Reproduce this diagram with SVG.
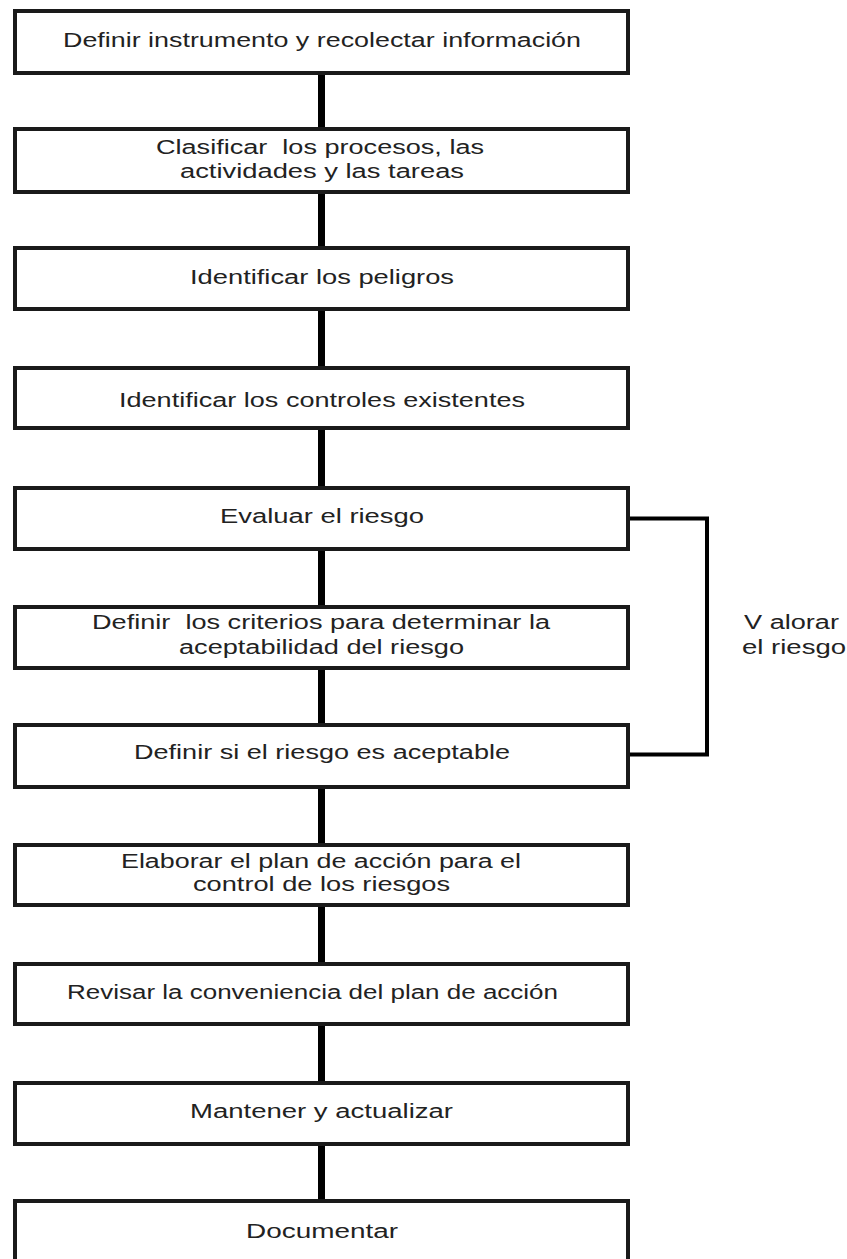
<svg xmlns="http://www.w3.org/2000/svg" width="847" height="1259" viewBox="0 0 847 1259">
<style>
.box{fill:#fff;stroke:#1a1a1a;stroke-width:4}
.conn{stroke:#000;stroke-width:7;fill:none}
.br{stroke:#000;stroke-width:4;fill:none}
text{font-family:"Liberation Sans",Arial,sans-serif;font-size:20px;fill:#222}
</style>
<rect width="847" height="1259" fill="#fff"/>
<g id="connectors">
<line class="conn" x1="321.5" y1="73" x2="321.5" y2="129"/>
<line class="conn" x1="321.5" y1="192" x2="321.5" y2="248"/>
<line class="conn" x1="321.5" y1="309" x2="321.5" y2="368"/>
<line class="conn" x1="321.5" y1="428" x2="321.5" y2="488"/>
<line class="conn" x1="321.5" y1="549" x2="321.5" y2="607"/>
<line class="conn" x1="321.5" y1="668" x2="321.5" y2="725"/>
<line class="conn" x1="321.5" y1="787" x2="321.5" y2="845"/>
<line class="conn" x1="321.5" y1="905" x2="321.5" y2="964"/>
<line class="conn" x1="321.5" y1="1024" x2="321.5" y2="1083"/>
<line class="conn" x1="321.5" y1="1144" x2="321.5" y2="1201"/>
<polyline class="br" points="628,518.5 707,518.5 707,754.5 628,754.5"/>
</g>
<g id="n1"><rect class="box" x="15" y="11" width="613" height="62"/>
<text x="63" y="47" textLength="518" lengthAdjust="spacingAndGlyphs">Definir instrumento y recolectar información</text></g>
<g id="n2"><rect class="box" x="15" y="129" width="613" height="63"/>
<text x="156" y="154" textLength="328" lengthAdjust="spacingAndGlyphs" xml:space="preserve">Clasificar  los procesos, las</text>
<text x="180" y="178" textLength="284" lengthAdjust="spacingAndGlyphs">actividades y las tareas</text></g>
<g id="n3"><rect class="box" x="15" y="248" width="613" height="61"/>
<text x="190" y="284" textLength="264" lengthAdjust="spacingAndGlyphs">Identificar los peligros</text></g>
<g id="n4"><rect class="box" x="15" y="368" width="613" height="60"/>
<text x="119" y="407" textLength="406" lengthAdjust="spacingAndGlyphs">Identificar los controles existentes</text></g>
<g id="n5"><rect class="box" x="15" y="488" width="613" height="61"/>
<text x="220" y="523" textLength="204" lengthAdjust="spacingAndGlyphs">Evaluar el riesgo</text></g>
<g id="n6"><rect class="box" x="15" y="607" width="613" height="61"/>
<text x="92" y="629" textLength="458" lengthAdjust="spacingAndGlyphs" xml:space="preserve">Definir  los criterios para determinar la</text>
<text x="179" y="654" textLength="285" lengthAdjust="spacingAndGlyphs">aceptabilidad del riesgo</text></g>
<g id="n7"><rect class="box" x="15" y="725" width="613" height="62"/>
<text x="134" y="759" textLength="376" lengthAdjust="spacingAndGlyphs">Definir si el riesgo es aceptable</text></g>
<g id="n8"><rect class="box" x="15" y="845" width="613" height="60"/>
<text x="121" y="868" textLength="400" lengthAdjust="spacingAndGlyphs">Elaborar el plan de acción para el</text>
<text x="193" y="891" textLength="257" lengthAdjust="spacingAndGlyphs">control de los riesgos</text></g>
<g id="n9"><rect class="box" x="15" y="964" width="613" height="60"/>
<text x="67" y="999" textLength="491" lengthAdjust="spacingAndGlyphs">Revisar la conveniencia del plan de acción</text></g>
<g id="n10"><rect class="box" x="15" y="1083" width="613" height="61"/>
<text x="190" y="1118" textLength="263" lengthAdjust="spacingAndGlyphs">Mantener y actualizar</text></g>
<g id="n11"><rect class="box" x="15" y="1201" width="613" height="61"/>
<text x="246" y="1238" textLength="152" lengthAdjust="spacingAndGlyphs">Documentar</text></g>
<g id="label">
<text x="744" y="629" textLength="95" lengthAdjust="spacingAndGlyphs">V alorar</text>
<text x="742" y="654" textLength="104" lengthAdjust="spacingAndGlyphs">el riesgo</text>
</g>
</svg>
